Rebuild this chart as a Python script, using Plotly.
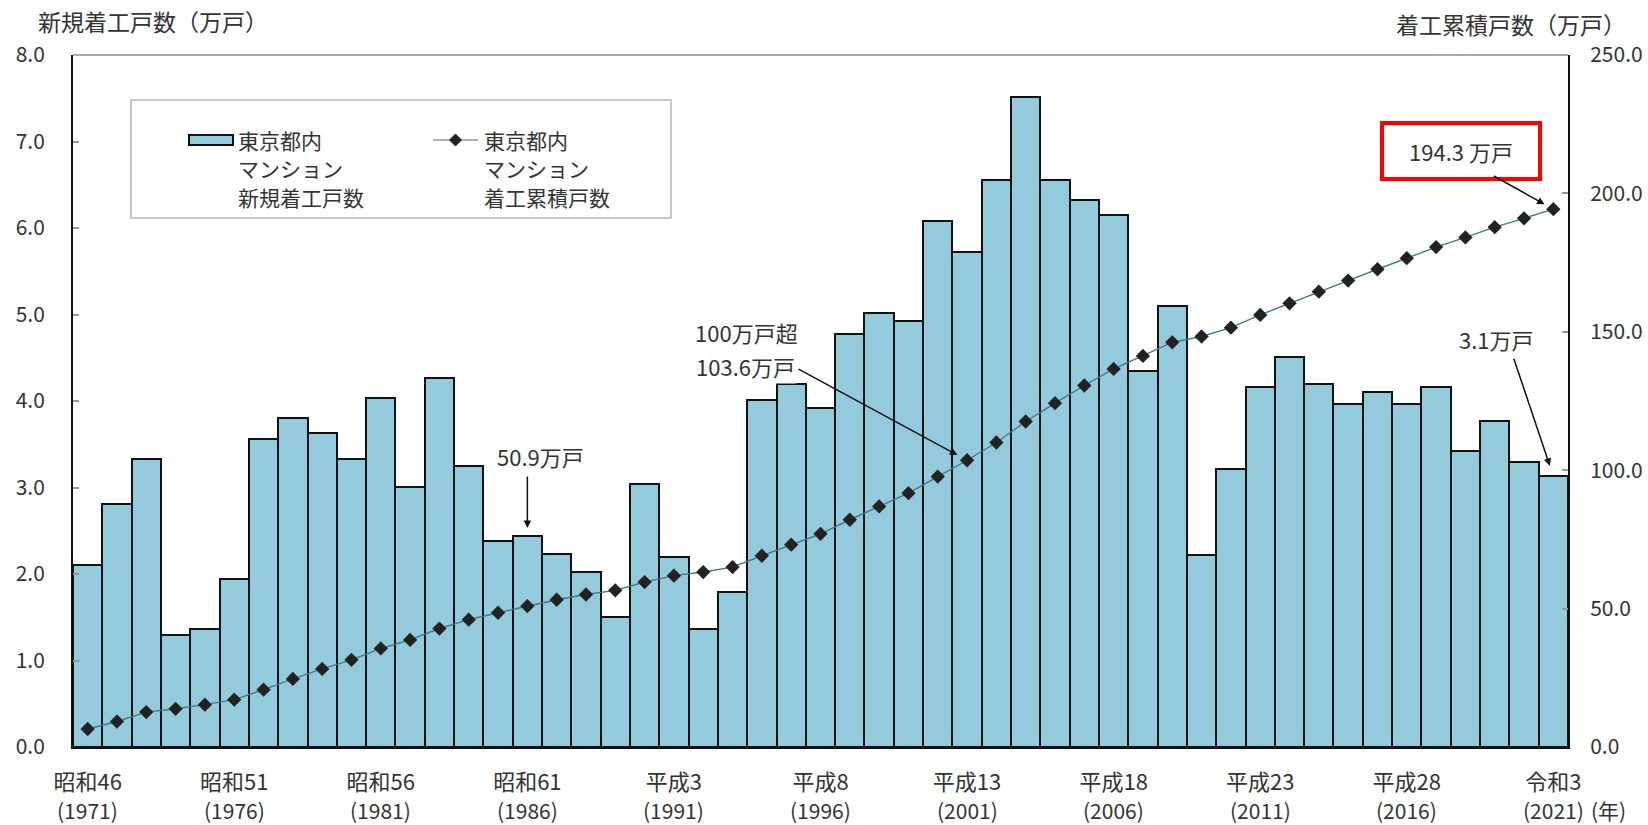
import plotly.graph_objects as go

# ---------------- data ----------------
years = list(range(1971, 2022))

# 東京都内マンション新規着工戸数 (万戸)
new_starts = [2.10, 2.81, 3.33, 1.30, 1.37, 1.94, 3.56, 3.80, 3.63, 3.33,
              4.03, 3.01, 4.27, 3.25, 2.38, 2.44, 2.23, 2.02, 1.50, 3.04,
              2.20, 1.36, 1.79, 4.01, 4.20, 3.92, 4.77, 5.02, 4.93, 6.08,
              5.72, 6.56, 7.52, 6.56, 6.32, 6.15, 4.35, 5.10, 2.22, 3.21,
              4.16, 4.51, 4.20, 3.97, 4.10, 3.97, 4.16, 3.42, 3.77, 3.29,
              3.13]

# 東京都内マンション着工累積戸数 (万戸)
cumulative = [6.5, 9.2, 12.6, 13.8, 15.3, 17.1, 20.7, 24.6, 28.2, 31.5,
              35.6, 38.7, 42.8, 46.0, 48.5, 50.9, 53.2, 55.1, 56.6, 59.6,
              61.9, 63.2, 65.0, 69.1, 73.1, 77.0, 82.1, 86.9, 91.7, 97.7,
              103.6, 110.0, 117.6, 124.2, 130.6, 136.6, 141.3, 146.2, 148.3, 151.5,
              156.1, 160.3, 164.5, 168.5, 172.6, 176.6, 180.6, 184.1, 187.8, 191.0,
              194.3]

tick_years = [1971, 1976, 1981, 1986, 1991, 1996, 2001, 2006, 2011, 2016, 2021]
era_labels = ["昭和46", "昭和51", "昭和56", "昭和61", "平成3", "平成8",
              "平成13", "平成18", "平成23", "平成28", "令和3"]
year_labels = ["(1971)", "(1976)", "(1981)", "(1986)", "(1991)", "(1996)",
               "(2001)", "(2006)", "(2011)", "(2016)", "(2021)"]

left_ticks = [0, 1, 2, 3, 4, 5, 6, 7, 8]
right_ticks = [0, 50, 100, 150, 200, 250]

legend_bar_lines = ["東京都内", "マンション", "新規着工戸数"]
legend_line_lines = ["東京都内", "マンション", "着工累積戸数"]

left_title = "新規着工戸数（万戸）"
right_title = "着工累積戸数（万戸）"

# ---------------- styling / layout helpers ----------------
FONT = "Noto Sans CJK JP"
TXT = "#333333"
BAR_COLOR = "#93CADC"
W_FIG, H_FIG = 1648, 825
L, R, T, B = 73, 80, 55, 78
PW = W_FIG - L - R
PH = H_FIG - T - B


def px_x(x):
    return (x - L) / PW


def px_y(y):
    return (H_FIG - B - y) / PH


fig = go.Figure()

fig.add_trace(go.Bar(
    x=years, y=new_starts, width=1,
    marker=dict(color=BAR_COLOR, line=dict(color="#111111", width=2)),
    showlegend=False, yaxis="y", name="新規着工戸数",
))

fig.add_trace(go.Scatter(
    x=years, y=cumulative, mode="lines+markers", yaxis="y2",
    line=dict(color="#3e7b8b", width=1.4),
    marker=dict(symbol="diamond", size=11, color="#222222"),
    showlegend=False, name="着工累積戸数",
))

annotations = []


def text_ann(text, x, y, size=22, xanchor="center", yanchor="middle", **kw):
    d = dict(text=text, xref="paper", yref="paper", x=px_x(x), y=px_y(y),
             xanchor=xanchor, yanchor=yanchor, showarrow=False,
             font=dict(size=size, color=TXT, family=FONT))
    d.update(kw)
    return d


def arrow_ann(x, y, yref, ax, ay, standoff):
    return dict(text="", xref="x", yref=yref, x=x, y=y, ax=ax, ay=ay,
                showarrow=True, arrowhead=2, arrowsize=1, arrowwidth=1.5,
                standoff=standoff, arrowcolor="#111111")


# axis titles
annotations.append(text_ann(left_title, 36, 21, size=23, xanchor="left"))
annotations.append(text_ann(right_title, 1628, 24, size=23, xanchor="right"))

# second row of x tick labels (western year)
for yr, lab in zip(tick_years, year_labels):
    annotations.append(dict(text=lab, xref="x", yref="paper", x=yr, y=0,
                            yshift=-63, xanchor="center", yanchor="middle",
                            showarrow=False, font=dict(size=21, color=TXT, family=FONT)))
annotations.append(dict(text="(年)", xref="x", yref="paper", x=tick_years[-1], y=0,
                        xshift=55, yshift=-63, xanchor="center", yanchor="middle",
                        showarrow=False, font=dict(size=21, color=TXT, family=FONT)))

# callouts
annotations.append(text_ann("50.9万戸", 540, 456))
annotations.append(arrow_ann(1986, new_starts[15], "y", 0, -61, 8))

annotations.append(text_ann("100万戸超", 746, 332))
annotations.append(text_ann("103.6万戸", 745, 366, bgcolor="white"))
annotations.append(arrow_ann(2001, cumulative[30], "y2", -170, -92, 11))

annotations.append(text_ann("3.1万戸", 1496, 339))
annotations.append(arrow_ann(2021, new_starts[-1], "y", -40, -119, 11))

annotations.append(text_ann("194.3 万戸", 1461, 151, bordercolor="#ff0000",
                            borderwidth=4, borderpad=2, width=150, height=48,
                            bgcolor="white"))
annotations.append(arrow_ann(2021, cumulative[-1], "y2", -61, -34, 10))

# hand-drawn legend texts
row_y = [140, 168.5, 197]
for txt, yy in zip(legend_bar_lines, row_y):
    annotations.append(text_ann(txt, 236, yy, size=21, xanchor="left"))
for txt, yy in zip(legend_line_lines, row_y):
    annotations.append(text_ann(txt, 482, yy, size=21, xanchor="left"))

shapes = [
    # top frame line
    dict(type="line", xref="paper", yref="paper", x0=0, x1=1, y0=1, y1=1,
         line=dict(color="#aaaaaa", width=2)),
    # legend box
    dict(type="rect", xref="paper", yref="paper",
         x0=px_x(131), x1=px_x(671), y0=px_y(218), y1=px_y(100),
         line=dict(color="#c8c8c8", width=2), fillcolor="white", layer="below"),
    # bar swatch
    dict(type="rect", xref="paper", yref="paper",
         x0=px_x(189), x1=px_x(233), y0=px_y(145), y1=px_y(135),
         line=dict(color="#111111", width=2), fillcolor=BAR_COLOR),
    # line swatch
    dict(type="line", xref="paper", yref="paper",
         x0=px_x(433), x1=px_x(478), y0=px_y(140), y1=px_y(140),
         line=dict(color="#999999", width=1.5)),
    dict(type="path", xref="paper", yref="paper", xsizemode="pixel", ysizemode="pixel",
         xanchor=px_x(455.5), yanchor=px_y(140),
         path="M0,6 L6,0 L0,-6 L-6,0 Z", fillcolor="#222222",
         line=dict(color="#222222", width=1)),
]

axis_font = dict(size=21, color=TXT, family=FONT)

fig.update_layout(
    width=W_FIG, height=H_FIG,
    margin=dict(l=L, r=R, t=T, b=B, pad=0, autoexpand=False),
    paper_bgcolor="white", plot_bgcolor="white",
    bargap=0,
    font=dict(family=FONT, color=TXT),
    xaxis=dict(range=[1970.5, 2021.5], tickvals=tick_years, ticktext=era_labels,
               showline=True, linecolor="#111111", linewidth=2, ticks="",
               showgrid=False, zeroline=False, automargin=False,
               tickfont=dict(size=22, color=TXT, family=FONT),
               ticklabelstandoff=15),
    yaxis=dict(range=[0, 8], tickvals=left_ticks, tickformat=".1f",
               ticks="inside", ticklen=6, tickcolor="#999999", tickwidth=1.5,
               showline=True, linecolor="#111111", linewidth=2,
               showgrid=False, zeroline=False, tickfont=axis_font,
               ticklabelstandoff=22, automargin=False),
    yaxis2=dict(range=[0, 250], tickvals=right_ticks, tickformat=".1f",
                overlaying="y", side="right",
                ticks="inside", ticklen=6, tickcolor="#999999", tickwidth=1.5,
                showline=True, linecolor="#111111", linewidth=2,
                showgrid=False, zeroline=False, tickfont=axis_font,
                ticklabelstandoff=16, automargin=False),
    annotations=annotations,
    shapes=shapes,
    showlegend=False,
)

fig.write_html("out.html")
